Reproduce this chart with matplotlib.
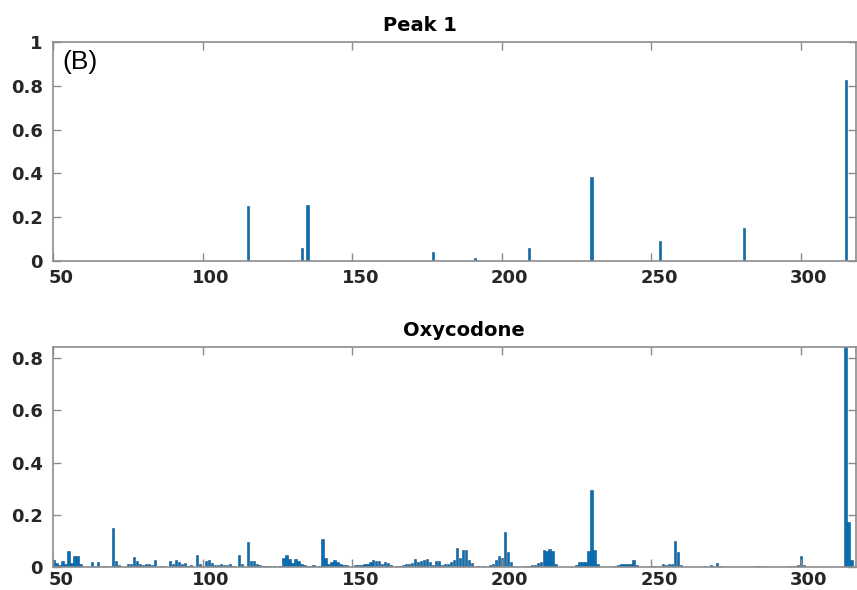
import matplotlib
matplotlib.use("Agg")
import matplotlib.pyplot as plt
import matplotlib.transforms as mtransforms

# Peak 1 spectrum
peak_mz = [115, 133, 135, 177, 191, 209, 230, 253, 281, 315]
peak_int = [0.252, 0.06, 0.258, 0.04, 0.013, 0.06, 0.382, 0.093, 0.152, 0.826]

# Oxycodone reference spectrum
oxy_mz = [50, 51, 52, 53, 54, 55, 56, 57, 58, 59, 63, 64, 65, 67, 68, 70, 71, 72,
          75, 76, 77, 78, 79, 80, 81, 82, 83, 84, 86, 87, 89, 90, 91, 92, 93, 94,
          95, 96, 98, 99, 101, 102, 103, 104, 105, 106, 107, 108, 109, 110, 112,
          113, 115, 116, 117, 118, 119, 120, 121, 122, 124, 126, 127, 128, 129,
          130, 131, 132, 133, 134, 135, 136, 137, 139, 140, 141, 142, 143, 144,
          145, 146, 147, 148, 151, 152, 153, 154, 155, 156, 157, 158, 159, 160,
          161, 162, 163, 165, 166, 167, 168, 169, 170, 171, 172, 173, 174, 175,
          176, 177, 178, 179, 180, 181, 182, 183, 184, 185, 186, 187, 188, 189,
          190, 192, 194, 196, 197, 198, 199, 200, 201, 202, 203, 204, 208, 209,
          210, 211, 212, 213, 214, 215, 216, 217, 218, 225, 226, 227, 228, 229,
          230, 231, 232, 238, 239, 240, 241, 242, 243, 244, 245, 251, 253, 254,
          255, 256, 257, 258, 259, 260, 268, 270, 271, 272, 273, 285, 286, 296,
          298, 299, 300, 301, 315, 316, 317]
oxy_int = [0.026, 0.015, 0.008, 0.022, 0.010, 0.060, 0.015, 0.043, 0.043, 0.013,
           0.019, 0.005, 0.019, 0.005, 0.005, 0.151, 0.024, 0.006,
           0.013, 0.010, 0.037, 0.022, 0.010, 0.006, 0.010, 0.012, 0.008, 0.025,
           0.004, 0.004, 0.022, 0.012, 0.028, 0.018, 0.010, 0.015,
           0.005, 0.006, 0.045, 0.010, 0.022, 0.025, 0.017, 0.008, 0.008, 0.010,
           0.008, 0.006, 0.010, 0.005, 0.045,
           0.010, 0.095, 0.022, 0.022, 0.012, 0.006, 0.004, 0.004, 0.003, 0.002,
           0.005, 0.036, 0.045, 0.032,
           0.015, 0.032, 0.023, 0.010, 0.007, 0.005, 0.003, 0.006, 0.005, 0.109,
           0.035, 0.012, 0.019, 0.028,
           0.019, 0.012, 0.008, 0.006, 0.006, 0.008, 0.008, 0.010, 0.012, 0.019,
           0.028, 0.022, 0.022, 0.013,
           0.019, 0.015, 0.006, 0.004, 0.004, 0.006, 0.010, 0.013, 0.015, 0.030,
           0.018, 0.022, 0.025, 0.030,
           0.019, 0.008, 0.022, 0.023, 0.006, 0.010, 0.013, 0.020, 0.025, 0.074,
           0.036, 0.065, 0.065, 0.026,
           0.015, 0.004, 0.004, 0.006, 0.012, 0.028, 0.043, 0.035, 0.134, 0.058,
           0.019, 0.004, 0.003, 0.005,
           0.006, 0.006, 0.015, 0.019, 0.065, 0.060, 0.067, 0.063, 0.010, 0.008,
           0.018, 0.018, 0.018, 0.060,
           0.295, 0.064, 0.010, 0.003, 0.008, 0.012, 0.013, 0.013, 0.013, 0.025,
           0.006, 0.003, 0.003, 0.012,
           0.008, 0.010, 0.012, 0.099, 0.058, 0.008, 0.003, 0.006, 0.004, 0.017,
           0.004, 0.003, 0.003, 0.003,
           0.004, 0.006, 0.041, 0.008, 0.843, 0.173, 0.027]

x_ticks = [50, 100, 150, 200, 250, 300]
bar_col = "#0072BD"
edge_col = "#1d4f7c"
axis_col = "#8c8c8c"
text_col = "#262626"

fig = plt.figure(figsize=(8.57, 5.90), dpi=100)
ax1 = fig.add_axes([0.0613, 0.5576, 0.938, 0.371])
ax2 = fig.add_axes([0.0613, 0.039, 0.938, 0.373])


def style(ax, yticks, ylabels, xpad):
    ax.set_xlim(49.7, 318.6)
    ax.set_xticks(x_ticks)
    ax.set_xticklabels([str(t) for t in x_ticks])
    ax.set_yticks(yticks)
    ax.set_yticklabels(ylabels)
    for s in ax.spines.values():
        s.set_color(axis_col)
        s.set_linewidth(1.2)
    ax.tick_params(direction="in", length=6, width=1.0, color=axis_col,
                   top=True, right=True, labelsize=13, labelcolor=text_col)
    ax.tick_params(axis="x", pad=xpad)
    ax.tick_params(axis="y", pad=7)
    for lbl in ax.get_xticklabels() + ax.get_yticklabels():
        lbl.set_fontweight("bold")
    # tick labels sit a little right of their ticks
    shift = mtransforms.ScaledTranslation(8 / 100, 0, fig.dpi_scale_trans)
    for lbl in ax.get_xticklabels():
        lbl.set_transform(lbl.get_transform() + shift)


ax1.bar(peak_mz, peak_int, width=0.7, color=bar_col, edgecolor=edge_col, linewidth=0.4)
ax1.set_ylim(0, 1)
style(ax1, [0, 0.2, 0.4, 0.6, 0.8, 1], ["0", "0.2", "0.4", "0.6", "0.8", "1"], 6)
ax1.set_title("Peak 1", fontsize=14, fontweight="bold", color="black", x=0.457, pad=8)
ax1.text(0.012, 0.965, "(B)", transform=ax1.transAxes, fontsize=19,
         family="Liberation Sans", va="top", ha="left", color="black")

ax2.bar(oxy_mz, oxy_int, width=0.8, color=bar_col, edgecolor=edge_col, linewidth=0.4)
ax2.set_ylim(0, max(oxy_int))
style(ax2, [0, 0.2, 0.4, 0.6, 0.8], ["0", "0.2", "0.4", "0.6", "0.8"], 3)
ax2.set_title("Oxycodone", fontsize=14, fontweight="bold", color="black", x=0.512, pad=8)

fig.savefig("out.png", dpi=100)
